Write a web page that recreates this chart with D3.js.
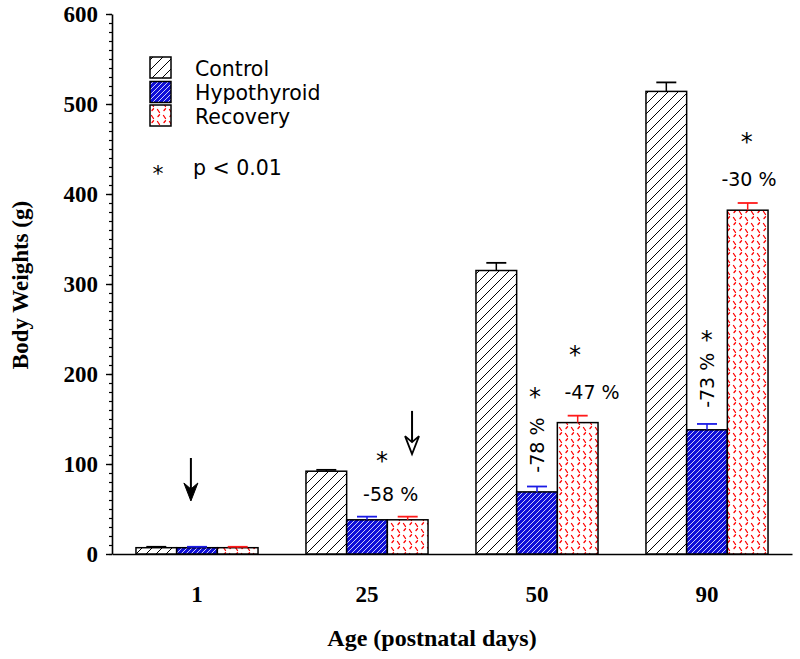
<!DOCTYPE html>
<html>
<head>
<meta charset="utf-8">
<script src="https://cdn.jsdelivr.net/npm/d3@7"></script>
<style>
  html, body { margin: 0; padding: 0; background: #ffffff; }
  svg { display: block; }
</style>
</head>
<body>
<svg id="chart" width="800" height="659"></svg>
<script>
// ---------------- data ----------------
const categories = ["1", "25", "50", "90"];
const seriesNames = ["Control", "Hypothyroid", "Recovery"];
const controlValues = [7, 92, 315, 514];
const controlErrors = [1, 1.5, 8.5, 10];
const hypothyroidValues = [7, 38, 69, 138];
const hypothyroidErrors = [1, 3.5, 6, 6.5];
const recoveryValues = [7, 38, 146, 382];
const recoveryErrors = [1, 3.5, 7.7, 8];
const yTickValues = [0, 100, 200, 300, 400, 500, 600];
const yLabel = "Body Weights (g)";
const xLabel = "Age (postnatal days)";
const significanceNote = "p < 0.01";
// percent-change labels: category, position across group (0..1), value (g), rotated?
const pctLabels = [
  { cat: "25", pos: 0.694, val: 66.7, text: "-58 %", rotate: false },
  { cat: "50", pos: 0.4975, val: 121, text: "-78 %", rotate: true },
  { cat: "50", pos: 0.951, val: 180, text: "-47 %", rotate: false },
  { cat: "90", pos: 0.4975, val: 193, text: "-73 %", rotate: true },
  { cat: "90", pos: 0.844, val: 416.7, text: "-30 %", rotate: false }
];
const starMarks = [
  { cat: "25", pos: 0.623, val: 107.8 },
  { cat: "50", pos: 0.484, val: 179 },
  { cat: "50", pos: 0.811, val: 225.6 },
  { cat: "90", pos: 0.4975, val: 243 },
  { cat: "90", pos: 0.825, val: 463 }
];
const arrows = [
  { cat: "1", pos: 0.45, from: 106.7, to: 58.9, filled: true },
  { cat: "25", pos: 0.869, from: 159, to: 111, filled: false }
];

const seriesValues = [controlValues, hypothyroidValues, recoveryValues];
const seriesErrors = [controlErrors, hypothyroidErrors, recoveryErrors];
const seriesStroke = ["#000000", "#1a1ae6", "#ff1a1a"];

// ---------------- layout ----------------
const svg = d3.select("#chart");
const axisX = 112, plotRight = 792, plotTop = 14, plotBottom = 554;

const x = d3.scaleBand().domain(categories).range([axisX, plotRight])
  .paddingInner(0.282).paddingOuter(0.141);
const xs = d3.scaleBand().domain(seriesNames).range([0, x.bandwidth()]).padding(0);
const y = d3.scaleLinear().domain([0, 600]).range([plotBottom, plotTop]);

// ---------------- patterns ----------------
const defs = svg.append("defs");
// Control: black diagonal hatch
const pc = defs.append("pattern").attr("id", "pat-control")
  .attr("patternUnits", "userSpaceOnUse").attr("width", 10).attr("height", 10);
pc.append("rect").attr("width", 10).attr("height", 10).attr("fill", "#fff");
pc.append("path").attr("d", "M0,10 L10,0 M-2,2 L2,-2 M8,12 L12,8")
  .attr("stroke", "#000").attr("stroke-width", 1);
// Hypothyroid: blue with fine white hatch
const ph = defs.append("pattern").attr("id", "pat-hypo")
  .attr("patternUnits", "userSpaceOnUse").attr("width", 5).attr("height", 5);
ph.append("rect").attr("width", 5).attr("height", 5).attr("fill", "#1010d8");
ph.append("path").attr("d", "M0,5 L5,0 M-1,1 L1,-1 M4,6 L6,4")
  .attr("stroke", "#ffffff").attr("stroke-width", 0.8);
// Recovery: red dashes on white
const pr = defs.append("pattern").attr("id", "pat-rec")
  .attr("patternUnits", "userSpaceOnUse").attr("width", 12).attr("height", 12);
pr.append("rect").attr("width", 12).attr("height", 12).attr("fill", "#fff");
pr.append("path").attr("d", "M1.5,1.5 L3.5,4.5 M7.5,7.5 L9.5,10.5 M8,2.5 L9.5,0.8 M2,8.5 L3.5,6.8")
  .attr("stroke", "#ff0000").attr("stroke-width", 1.3).attr("stroke-linecap", "round");
const patIds = ["url(#pat-control)", "url(#pat-hypo)", "url(#pat-rec)"];

// ---------------- axes ----------------
const serif = "'Liberation Serif', 'Times New Roman', serif";
const sans = "'DejaVu Sans', sans-serif";

// minor ticks
svg.append("g").attr("transform", `translate(${axisX},0)`)
  .call(d3.axisLeft(y).tickValues(d3.range(0, 601, 10)).tickSize(3).tickFormat(""))
  .call(g => g.select(".domain").remove())
  .call(g => g.selectAll("line").attr("stroke", "#000").attr("stroke-width", 1.2));

const yAxis = svg.append("g").attr("transform", `translate(${axisX},0)`)
  .call(d3.axisLeft(y).tickValues(yTickValues).tickSize(6).tickSizeOuter(0).tickPadding(8));
yAxis.select(".domain").attr("stroke", "#000").attr("stroke-width", 1.6);
yAxis.selectAll("line").attr("stroke", "#000").attr("stroke-width", 1.4);
yAxis.selectAll("text").attr("font-family", serif).attr("font-weight", "bold")
  .attr("font-size", 23).attr("fill", "#000");

const xAxis = svg.append("g").attr("transform", `translate(0,${plotBottom})`)
  .call(d3.axisBottom(x).tickSize(0).tickSizeOuter(0).tickPadding(32));
xAxis.select(".domain").attr("stroke", "#000").attr("stroke-width", 1.6);
xAxis.selectAll("text").attr("font-family", serif).attr("font-weight", "bold")
  .attr("font-size", 23).attr("fill", "#000");

svg.append("text").attr("transform", "translate(28,285) rotate(-90)")
  .attr("text-anchor", "middle").attr("font-family", serif).attr("font-weight", "bold")
  .attr("font-size", 23).attr("fill", "#000").text(yLabel);
svg.append("text").attr("x", 432).attr("y", 646)
  .attr("text-anchor", "middle").attr("font-family", serif).attr("font-weight", "bold")
  .attr("font-size", 24).attr("fill", "#000").text(xLabel);

// ---------------- bars ----------------
const barData = [];
categories.forEach((c, i) => {
  seriesNames.forEach((s, j) => {
    barData.push({ cat: c, series: s, j, value: seriesValues[j][i], err: seriesErrors[j][i] });
  });
});

const bars = svg.append("g");
bars.selectAll("rect").data(barData).join("rect")
  .attr("x", d => x(d.cat) + xs(d.series))
  .attr("y", d => y(d.value))
  .attr("width", xs.bandwidth())
  .attr("height", d => y(0) - y(d.value))
  .attr("fill", d => patIds[d.j])
  .attr("stroke", "#000").attr("stroke-width", 1.5);

// error bars
const eb = svg.append("g");
barData.forEach(d => {
  const cx = x(d.cat) + xs(d.series) + xs.bandwidth() / 2;
  const col = seriesStroke[d.j];
  eb.append("line").attr("x1", cx).attr("x2", cx)
    .attr("y1", y(d.value)).attr("y2", y(d.value + d.err))
    .attr("stroke", col).attr("stroke-width", 1.5);
  eb.append("line").attr("x1", cx - 10).attr("x2", cx + 10)
    .attr("y1", y(d.value + d.err)).attr("y2", y(d.value + d.err))
    .attr("stroke", col).attr("stroke-width", 1.8);
});

// ---------------- annotations ----------------
const ann = svg.append("g");
const gx = (cat, pos) => x(cat) + pos * x.bandwidth();
pctLabels.forEach(p => {
  const px = gx(p.cat, p.pos), py = y(p.val);
  if (p.rotate) {
    ann.append("text").attr("transform", `translate(${px + 7},${py}) rotate(-90)`)
      .attr("text-anchor", "middle").attr("font-family", sans).attr("font-size", 19)
      .attr("fill", "#000").text(p.text);
  } else {
    ann.append("text").attr("x", px).attr("y", py + 7)
      .attr("text-anchor", "middle").attr("font-family", sans).attr("font-size", 19)
      .attr("fill", "#000").text(p.text);
  }
});
starMarks.forEach(s => {
  ann.append("text").attr("x", gx(s.cat, s.pos)).attr("y", y(s.val) + 12.5)
    .attr("text-anchor", "middle").attr("font-family", sans).attr("font-size", 24)
    .attr("fill", "#000").text("*");
});
arrows.forEach(a => {
  const ax = gx(a.cat, a.pos), y0 = y(a.from), yt = y(a.to);
  ann.append("line").attr("x1", ax).attr("x2", ax).attr("y1", y0).attr("y2", yt - 12)
    .attr("stroke", "#000").attr("stroke-width", 2);
  ann.append("path")
    .attr("d", `M${ax},${yt} L${ax - 7},${yt - 18} L${ax},${yt - 12} L${ax + 7},${yt - 18} Z`)
    .attr("fill", a.filled ? "#000" : "#fff")
    .attr("stroke", "#000").attr("stroke-width", a.filled ? 1 : 1.8)
    .attr("stroke-linejoin", "miter");
});

// ---------------- legend ----------------
const leg = svg.append("g");
const legTops = [57, 81.5, 105];
seriesNames.forEach((s, j) => {
  leg.append("rect").attr("x", 150).attr("y", legTops[j]).attr("width", 21).attr("height", 21)
    .attr("fill", patIds[j]).attr("stroke", "#000").attr("stroke-width", 1.5);
  leg.append("text").attr("x", 195).attr("y", legTops[j] + 18.5)
    .attr("font-family", sans).attr("font-size", 20.5).attr("fill", "#000").text(s);
});
leg.append("text").attr("x", 158).attr("y", 180.5).attr("text-anchor", "middle")
  .attr("font-family", sans).attr("font-size", 22).attr("fill", "#000").text("*");
leg.append("text").attr("x", 193).attr("y", 175)
  .attr("font-family", sans).attr("font-size", 20.5).attr("fill", "#000").text(significanceNote);
</script>
</body>
</html>
